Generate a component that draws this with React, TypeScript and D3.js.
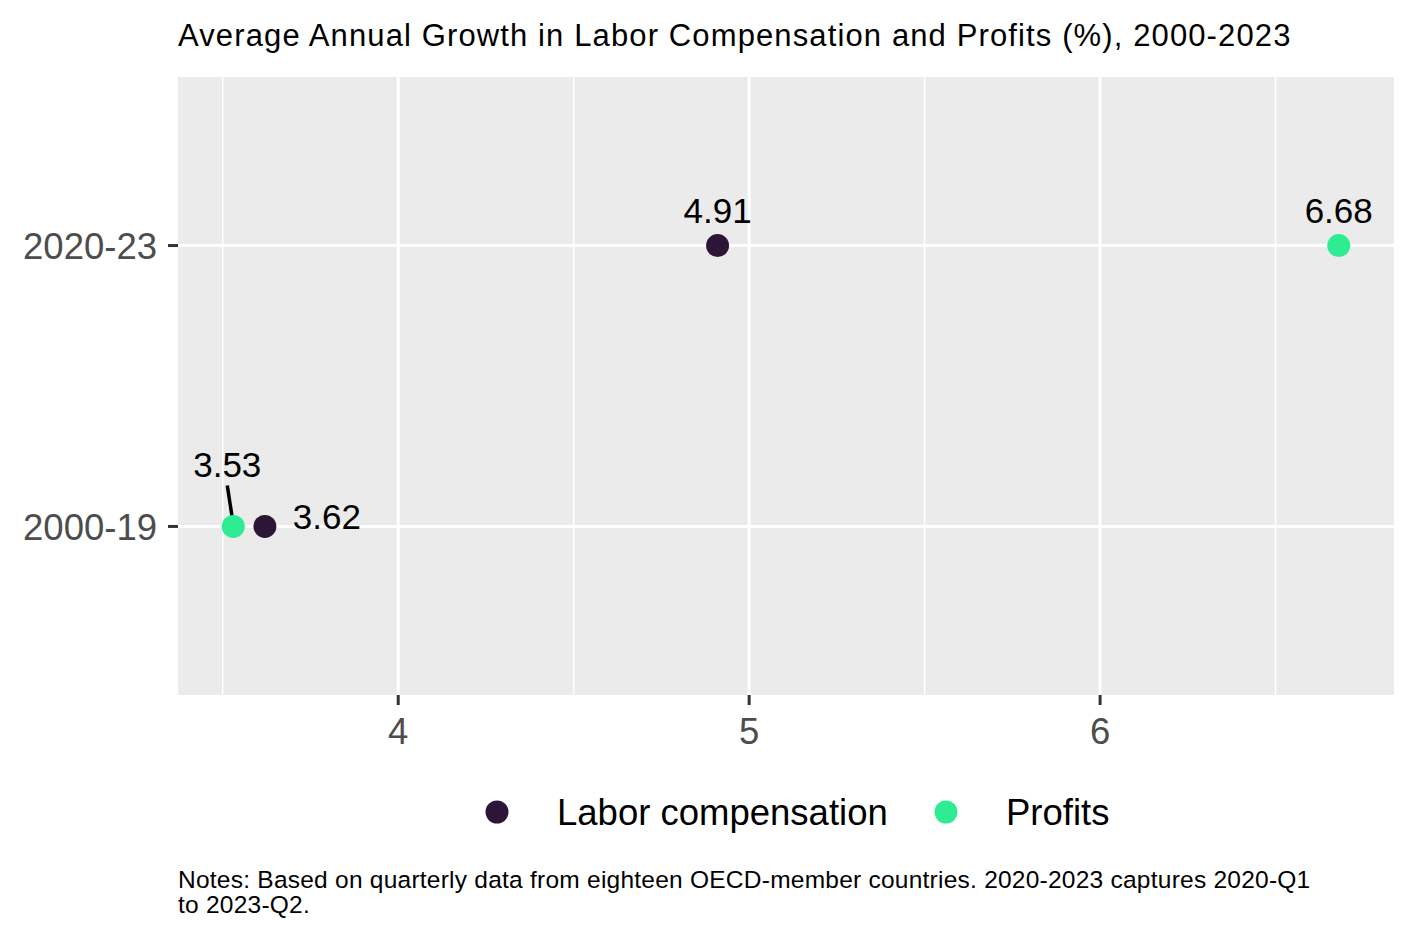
import * as d3 from "d3";
import { useEffect, useRef } from "react";

const PERIODS = ["2000-19", "2020-23"];
const LABOR = [3.62, 4.91];
const PROFITS = [3.53, 6.68];
const SERIES = ["Labor compensation", "Profits"];
const X_TICKS = [4, 5, 6];
const X_MINOR = [3.5, 4.5, 5.5, 6.5];

const COLORS = ["#2d1537", "#2eec92"];
// label nudges (px) per series per period, mimicking ggrepel placement
const LABEL_NUDGE: [number, number][][] = [
  [[28, -10], [0, -35]],
  [[-6, -62], [0, -35]],
];

const FONT = "'Liberation Sans', Arial, Helvetica, sans-serif";

export default function App() {
  const ref = useRef<SVGSVGElement | null>(null);

  useEffect(() => {
    document.body.style.margin = "0";
    const width = 1417;
    const height = 944;
    const svg = d3.select(ref.current);
    svg.selectAll("*").remove();
    svg.attr("width", width).attr("height", height).attr("viewBox", `0 0 ${width} ${height}`);
    svg.append("rect").attr("width", width).attr("height", height).attr("fill", "#fff");

    const panel = { left: 178, right: 1394, top: 77, bottom: 695 };
    const all = [...LABOR, ...PROFITS];
    const lo = d3.min(all)!;
    const hi = d3.max(all)!;
    const pad = (hi - lo) * 0.05;
    const x = d3.scaleLinear().domain([lo - pad, hi + pad]).range([panel.left, panel.right]);
    // discrete axis with 0.6 expansion on each side
    const yIdx = d3
      .scaleLinear()
      .domain([-0.6, PERIODS.length - 1 + 0.6])
      .range([panel.bottom, panel.top]);
    const y = (p: string) => yIdx(PERIODS.indexOf(p));

    svg
      .append("text")
      .attr("x", panel.left)
      .attr("y", 46)
      .attr("font-family", FONT)
      .attr("font-size", 31)
      .attr("letter-spacing", 1.12)
      .attr("fill", "#000")
      .text("Average Annual Growth in Labor Compensation and Profits (%), 2000-2023");

    svg
      .append("rect")
      .attr("x", panel.left)
      .attr("y", panel.top)
      .attr("width", panel.right - panel.left)
      .attr("height", panel.bottom - panel.top)
      .attr("fill", "#ebebeb");

    X_MINOR.forEach((v) => {
      svg
        .append("line")
        .attr("x1", x(v))
        .attr("x2", x(v))
        .attr("y1", panel.top)
        .attr("y2", panel.bottom)
        .attr("stroke", "#fff")
        .attr("stroke-width", 1.5);
    });
    X_TICKS.forEach((v) => {
      svg
        .append("line")
        .attr("x1", x(v))
        .attr("x2", x(v))
        .attr("y1", panel.top)
        .attr("y2", panel.bottom)
        .attr("stroke", "#fff")
        .attr("stroke-width", 3);
    });
    PERIODS.forEach((p) => {
      svg
        .append("line")
        .attr("x1", panel.left)
        .attr("x2", panel.right)
        .attr("y1", y(p))
        .attr("y2", y(p))
        .attr("stroke", "#fff")
        .attr("stroke-width", 3);
    });

    // axes
    X_TICKS.forEach((v) => {
      svg
        .append("line")
        .attr("x1", x(v))
        .attr("x2", x(v))
        .attr("y1", panel.bottom)
        .attr("y2", panel.bottom + 10)
        .attr("stroke", "#333")
        .attr("stroke-width", 3);
      svg
        .append("text")
        .attr("x", x(v))
        .attr("y", 744)
        .attr("text-anchor", "middle")
        .attr("font-family", FONT)
        .attr("font-size", 36.5)
        .attr("fill", "#4d4d4d")
        .text(String(v));
    });
    PERIODS.forEach((p) => {
      svg
        .append("line")
        .attr("x1", panel.left - 10)
        .attr("x2", panel.left)
        .attr("y1", y(p))
        .attr("y2", y(p))
        .attr("stroke", "#333")
        .attr("stroke-width", 3);
      svg
        .append("text")
        .attr("x", panel.left - 21)
        .attr("y", y(p))
        .attr("dy", "0.36em")
        .attr("text-anchor", "end")
        .attr("font-family", FONT)
        .attr("font-size", 36.5)
        .attr("fill", "#4d4d4d")
        .text(p);
    });

    // points and labels
    [LABOR, PROFITS].forEach((vals, s) => {
      vals.forEach((v, i) => {
        const px = x(v);
        const py = y(PERIODS[i]);
        const [dx, dy] = LABEL_NUDGE[s][i];
        const lx = px + dx;
        const ly = py + dy;
        if (Math.abs(dy) > 45) {
          svg
            .append("line")
            .attr("x1", lx)
            .attr("y1", ly + 21)
            .attr("x2", px)
            .attr("y2", py - 2)
            .attr("stroke", "#000")
            .attr("stroke-width", 3.5);
        }
        svg
          .append("text")
          .attr("x", lx)
          .attr("y", ly)
          .attr("dy", "0.36em")
          .attr("text-anchor", dx > 10 ? "start" : "middle")
          .attr("font-family", FONT)
          .attr("font-size", 35)
          .attr("fill", "#000")
          .text(v.toFixed(2));
      });
    });
    [LABOR, PROFITS].forEach((vals, s) => {
      vals.forEach((v, i) => {
        svg
          .append("circle")
          .attr("cx", x(v))
          .attr("cy", y(PERIODS[i]))
          .attr("r", 11.5)
          .attr("fill", COLORS[s]);
      });
    });

    // legend
    const legendPos = [497, 946];
    SERIES.forEach((name, s) => {
      svg
        .append("circle")
        .attr("cx", legendPos[s])
        .attr("cy", 812)
        .attr("r", 11.5)
        .attr("fill", COLORS[s]);
      svg
        .append("text")
        .attr("x", legendPos[s] + 60)
        .attr("y", 812)
        .attr("dy", "0.36em")
        .attr("font-family", FONT)
        .attr("font-size", 36.5)
        .attr("fill", "#000")
        .text(name);
    });

    const notes = [
      "Notes: Based on quarterly data from eighteen OECD-member countries. 2020-2023 captures 2020-Q1",
      "to 2023-Q2.",
    ];
    notes.forEach((line, i) => {
      svg
        .append("text")
        .attr("x", panel.left)
        .attr("y", 888 + i * 25)
        .attr("font-family", FONT)
        .attr("font-size", 24.5)
        .attr("letter-spacing", 0.24)
        .attr("fill", "#000")
        .text(line);
    });
  }, []);

  return <svg ref={ref} style={{ display: "block" }} />;
}
